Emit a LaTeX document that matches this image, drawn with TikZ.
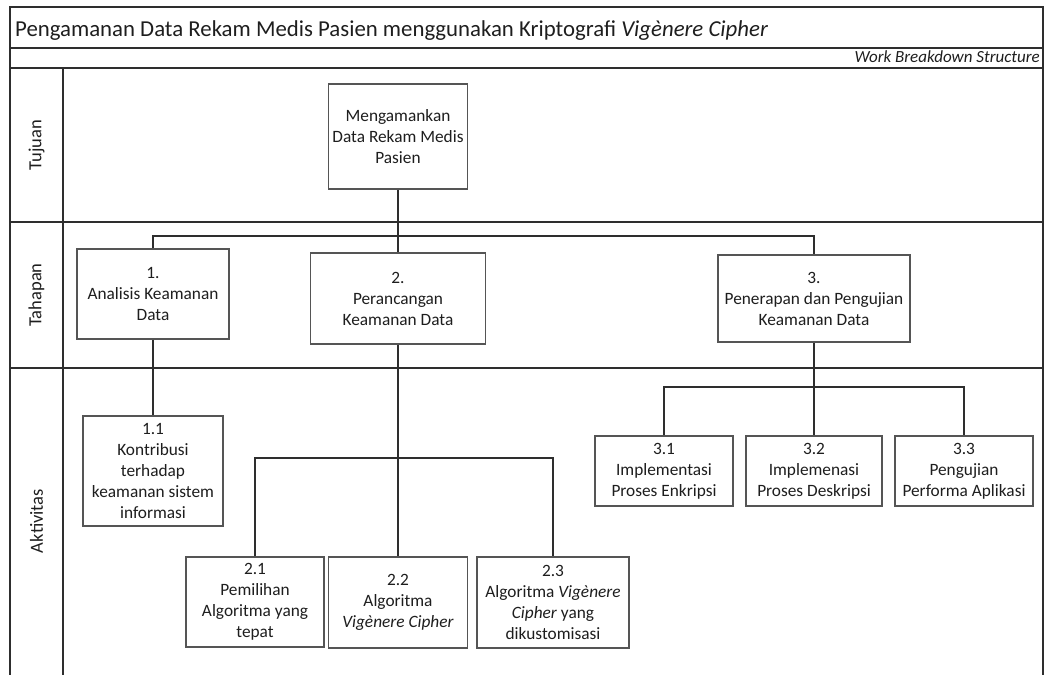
\documentclass[tikz,border=0pt]{standalone}
\usepackage{fontspec}
\setmainfont{Carlito}
\definecolor{framec}{HTML}{2E2E2E}
\definecolor{boxc}{HTML}{555555}
\definecolor{txtc}{HTML}{1E1E1E}
\tikzset{
  wbox/.style={draw=boxc, line width=1.5pt, fill=white, align=center, inner sep=0pt,
    text=txtc, font=\fontsize{17.3}{21}\selectfont},
  frameline/.style={draw=framec, line width=1.3pt},
  conn/.style={draw=framec, line width=1.6pt},
  rowlabel/.style={rotate=90, text=txtc, font=\fontsize{18.5}{21}\selectfont, inner sep=0pt}
}
\begin{document}
\begin{tikzpicture}[x=1pt, y=-1pt]
\useasboundingbox (0,0) rectangle (1045,675);
% frame
\draw[frameline] (10,675) -- (10,7) -- (1043,7) -- (1043,675);
\draw[draw=framec, line width=2.6pt] (10,48) -- (1043,48);
\draw[frameline] (10,68) -- (1043,68);
\draw[frameline] (63,68) -- (63,675);
\draw[frameline] (10,222) -- (1043,222);
\draw[frameline] (10,368) -- (1043,368);
% header texts
\node[anchor=base west, inner sep=0pt, text=txtc, font=\fontsize{22.8}{26}\selectfont] (title) at (15,36)
  {Pengamanan Data Rekam Medis Pasien menggunakan Kriptografi \textit{Vigènere Cipher}};
\node[anchor=base east, inner sep=0pt, text=txtc, font=\fontsize{17}{19}\selectfont\itshape] (wbs) at (1040,62.5)
  {Work Breakdown Structure};
\node[rowlabel] (lt) at (36.5,145) {Tujuan};
\node[rowlabel] (lh) at (36.5,295) {Tahapan};
\node[rowlabel] (la) at (36.5,521) {Aktivitas};
% nodes
\node[wbox, minimum width=139pt, minimum height=105pt] (top) at (398,136.5)
  {Mengamankan\\Data Rekam Medis\\Pasien};
\node[wbox, minimum width=152pt, minimum height=90pt] (n1) at (153,294)
  {1.\\Analisis Keamanan\\Data};
\node[wbox, minimum width=175pt, minimum height=91pt] (n2) at (398,298.5)
  {2.\\Perancangan\\Keamanan Data};
\node[wbox, minimum width=192pt, minimum height=87pt] (n3) at (814,298.5)
  {3.\\Penerapan dan Pengujian\\Keamanan Data};
\node[wbox, minimum width=140pt, minimum height=110pt] (n11) at (153,471)
  {1.1\\Kontribusi\\terhadap\\keamanan sistem\\informasi};
\node[wbox, minimum width=138pt, minimum height=90pt] (n21) at (255,602)
  {2.1\\Pemilihan\\Algoritma yang\\tepat};
\node[wbox, minimum width=139pt, minimum height=91pt] (n22) at (398,602.5)
  {2.2\\Algoritma\\\textit{Vigènere Cipher}};
\node[wbox, minimum width=152pt, minimum height=91pt] (n23) at (553,602.5)
  {2.3\\Algoritma \textit{Vigènere}\\\textit{Cipher} yang\\dikustomisasi};
\node[wbox, minimum width=138pt, minimum height=70pt] (n31) at (664,471)
  {3.1\\Implementasi\\Proses Enkripsi};
\node[wbox, minimum width=136pt, minimum height=70pt] (n32) at (814,471)
  {3.2\\Implemenasi\\Proses Deskripsi};
\node[wbox, minimum width=138pt, minimum height=70pt] (n33) at (964,471)
  {3.3\\Pengujian\\Performa Aplikasi};
% junctions
\coordinate (b1) at (398,236);
\coordinate (b2) at (398,458);
\coordinate (b3) at (814,387);
% connectors
\draw[conn] (top.south) -- (n2.north);
\draw[conn] (n1.north) |- (b1) -| (n3.north);
\draw[conn] (n1.south) -- (n11.north);
\draw[conn] (n2.south) -- (n22.north);
\draw[conn] (n21.north) |- (b2) -| (n23.north);
\draw[conn] (n3.south) -- (n32.north);
\draw[conn] (n31.north) |- (b3) -| (n33.north);
\end{tikzpicture}
\end{document}
